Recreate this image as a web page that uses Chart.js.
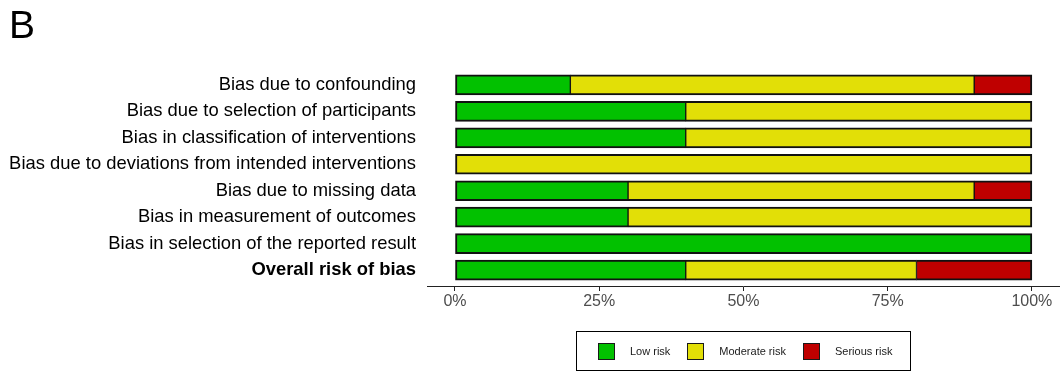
<!DOCTYPE html>
<html>
<head>
<meta charset="utf-8">
<script src="https://cdn.jsdelivr.net/npm/chart.js@4.4.1/dist/chart.umd.min.js"></script>
<style>
  body { margin: 0; background: #fff; font-family: "Liberation Sans", Arial, sans-serif; }
  #wrap { position: relative; width: 1061px; height: 372px; }
  #panel { position: absolute; left: 9px; top: 5px; font-size: 39px; line-height: 1; color: #000; }
  #legend {
    position: absolute; left: 576px; top: 331px; width: 335px; height: 40px;
    border: 1px solid #000; display: flex; align-items: center; padding-left: 21px; box-sizing: border-box;
    font-size: 11px; color: #1a1a1a;
  }
  #legend .sw { width: 15px; height: 15px; border: 1.5px solid #1a1a1a; margin-right: 15px; }
  #legend .lb { margin-right: 17px; }
</style>
</head>
<body>
<div id="wrap">
  <canvas id="chart" width="1061" height="372"></canvas>
  <div id="panel">B</div>
  <div id="legend"></div>
</div>
<script>
const categories = [
  "Bias due to confounding",
  "Bias due to selection of participants",
  "Bias in classification of interventions",
  "Bias due to deviations from intended interventions",
  "Bias due to missing data",
  "Bias in measurement of outcomes",
  "Bias in selection of the reported result",
  "Overall risk of bias"
];
const lowRisk      = [20, 40, 40, 0, 30, 30, 100, 40];
const moderateRisk = [70, 60, 60, 100, 60, 70, 0, 40];
const seriousRisk  = [10, 0, 0, 0, 10, 0, 0, 20];

const seriesNames  = ["Low risk", "Moderate risk", "Serious risk"];
const seriesColors = ["#02C100", "#E2DF07", "#BF0000"];
const xTicks = [0, 25, 50, 75, 100];

const allSeries = [lowRisk, moderateRisk, seriousRisk];

// borders: 2px outside, 1px each side of an inner divider
function segBorder(ctx) {
  const i = ctx.dataIndex, d = ctx.datasetIndex;
  let first = true, last = true;
  for (let k = 0; k < d; k++) if (allSeries[k][i] > 0) first = false;
  for (let k = d + 1; k < allSeries.length; k++) if (allSeries[k][i] > 0) last = false;
  return { top: 2, bottom: 2, left: first ? 2 : 1, right: last ? 2 : 1 };
}

const datasets = allSeries.map((vals, s) => ({
  label: seriesNames[s],
  data: vals.map((v, i) => ({ x: v, y: i })),
  backgroundColor: seriesColors[s],
  borderColor: "#111",
  borderWidth: segBorder,
  borderSkipped: false,
  barThickness: 20
}));

new Chart(document.getElementById("chart"), {
  type: "bar",
  data: { datasets },
  options: {
    indexAxis: "y",
    responsive: false,
    animation: false,
    layout: { padding: { top: 69, right: 2, bottom: 56, left: 0 } },
    plugins: { legend: { display: false }, tooltip: { enabled: false } },
    scales: {
      x: {
        type: "linear",
        stacked: true,
        min: -4.85,
        max: 104.7,
        afterBuildTicks: s => { s.ticks = xTicks.map(v => ({ value: v })); },
        afterFit: s => { s.height = 30; },
        grid: { drawOnChartArea: false, drawTicks: true, tickLength: 5, color: "#222" },
        border: { display: true, color: "#222", width: 1 },
        ticks: {
          color: "#4d4d4d",
          font: { family: "Liberation Sans", size: 16 },
          padding: 1,
          callback: v => v + "%"
        }
      },
      y: {
        type: "linear",
        stacked: true,
        reverse: true,
        offset: false,
        min: -0.6,
        max: categories.length - 0.4,
        afterBuildTicks: s => { s.ticks = categories.map((c, i) => ({ value: i })); },
        afterFit: s => { s.width = 427; },
        grid: { display: false, drawTicks: false, tickLength: 0, offset: false },
        border: { display: false },
        ticks: {
          autoSkip: false,
          color: "#000",
          padding: 11,
          font: ctx => ({
            family: "Liberation Sans",
            size: 18.4,
            weight: ctx.index === categories.length - 1 ? "bold" : "normal"
          }),
          callback: v => categories[v]
        }
      }
    }
  }
});

// legend from the series
const leg = document.getElementById("legend");
seriesNames.forEach((name, s) => {
  const sw = document.createElement("div");
  sw.className = "sw";
  sw.style.background = seriesColors[s];
  const lb = document.createElement("div");
  lb.className = "lb";
  lb.textContent = name;
  leg.appendChild(sw);
  leg.appendChild(lb);
});
</script>
</body>
</html>
